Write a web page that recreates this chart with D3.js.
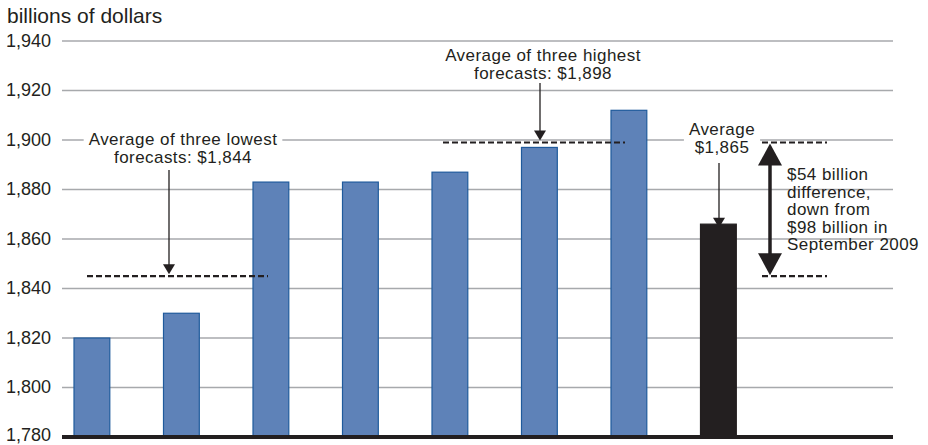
<!DOCTYPE html>
<html><head><meta charset="utf-8">
<script src="https://cdn.jsdelivr.net/npm/d3@7"></script>
<style>body{margin:0;background:#fff}svg{display:block}text{font-family:"Liberation Sans",Arial,Helvetica,sans-serif;fill:#231f20}</style>
</head><body><svg id="c" width="928" height="445"></svg>
<script>
const categories = ["F1","F2","F3","F4","F5","F6","F7","Average"];
const values = [1820, 1830, 1883, 1883, 1887, 1897, 1912, 1866];
const tickValues = [1780,1800,1820,1840,1860,1880,1900,1920,1940];
const lowAvg = 1845, highAvg = 1899, overallAvg = 1865;
const unitLabel = "billions of dollars";
const lowText = ["Average of three lowest","forecasts: $1,844"];
const highText = ["Average of three highest","forecasts: $1,898"];
const avgText = ["Average","$1,865"];
const diffText = ["$54 billion","difference,","down from","$98 billion in","September 2009"];

const svg = d3.select("#c");
const y = d3.scaleLinear().domain([1780,1940]).range([437,41]);
const x = d3.scaleBand().domain(categories).range([47.15,763.15]).paddingInner(0.6).paddingOuter(0.3);
const X0 = 62, X1 = 893;

// gridlines
svg.append("g").selectAll("line").data(tickValues.filter(v=>v>1780)).join("line")
  .attr("x1",X0).attr("x2",X1).attr("y1",d=>y(d)).attr("y2",d=>y(d))
  .attr("stroke","#a7a9ac").attr("stroke-width",1.5);

// axis labels
const ax = svg.append("g").attr("transform",`translate(${X0},0)`)
  .call(d3.axisLeft(y).tickValues(tickValues).tickSize(0).tickPadding(11).tickFormat(d3.format(",")));
ax.select(".domain").remove();
ax.selectAll("text").attr("font-size",18).style("font-family","Liberation Sans, Arial, sans-serif").attr("fill","#231f20")
  .attr("dy",d=>d===1780?"0.2em":"0.3em");

svg.append("text").attr("x",7).attr("y",23).attr("font-size",21).text(unitLabel);

// bars
svg.append("g").selectAll("rect").data(values).join("rect")
  .attr("x",(d,i)=>x(categories[i])).attr("width",x.bandwidth())
  .attr("y",d=>y(d)).attr("height",d=>y(1780)-y(d))
  .attr("fill",(d,i)=>i===7?"#231f20":"#5e82b8")
  .attr("stroke",(d,i)=>i===7?"#231f20":"#1f5a9c").attr("stroke-width",1.2);

// baseline
svg.append("line").attr("x1",X0).attr("x2",X1).attr("y1",y(1780)).attr("y2",y(1780))
  .attr("stroke","#231f20").attr("stroke-width",4);

function dashed(x1,x2,v){
  svg.append("line").attr("x1",x1).attr("x2",x2).attr("y1",y(v)).attr("y2",y(v))
    .attr("stroke","#231f20").attr("stroke-width",2.2).attr("stroke-dasharray","6,3");
}
function label(lines,cx,y0,anchor,lh,bg){
  const g = svg.append("g");
  const t = g.append("text").attr("font-size",17).attr("letter-spacing",0.45).attr("text-anchor",anchor);
  lines.forEach((s,i)=>t.append("tspan").attr("x",cx).attr("y",y0+i*lh).text(s));
  if(bg){const b=t.node().getBBox();g.insert("rect","text").attr("x",b.x-5).attr("y",b.y+2).attr("width",b.width+10).attr("height",b.height-4).attr("fill","#fff");}
}
function arrow(xc,y1,y2,hw,hh,sw){
  svg.append("line").attr("x1",xc).attr("x2",xc).attr("y1",y1).attr("y2",y2-hh+1).attr("stroke","#231f20").attr("stroke-width",sw);
  svg.append("path").attr("d",`M${xc-hw},${y2-hh}L${xc+hw},${y2-hh}L${xc},${y2}Z`).attr("fill","#231f20");
}

// low avg
dashed(87,268,lowAvg);
label(lowText,183,145,"middle",18,true);
arrow(169,170,y(lowAvg)-2,6,10,1.3);
// high avg
dashed(443,625,highAvg);
label(highText,543,61,"middle",17.5,true);
arrow(540,83,y(highAvg)-2,6,10,1.3);
// overall avg
label(avgText,722,135,"middle",18,true);
arrow(719,163,y(overallAvg)+1,6,10,1.3);
// difference
dashed(762,827,highAvg);
dashed(762,827,lowAvg);
const xd=770, yt=y(highAvg)+1, yb=y(lowAvg)-1;
svg.append("line").attr("x1",xd).attr("x2",xd).attr("y1",yt+20).attr("y2",yb-20).attr("stroke","#231f20").attr("stroke-width",3.5);
svg.append("path").attr("d",`M${xd},${yt}L${xd+12},${yt+22}L${xd-12},${yt+22}Z`).attr("fill","#231f20");
svg.append("path").attr("d",`M${xd},${yb}L${xd+12},${yb-22}L${xd-12},${yb-22}Z`).attr("fill","#231f20");
label(diffText,787,180,"start",17.5,false);
</script></body></html>
